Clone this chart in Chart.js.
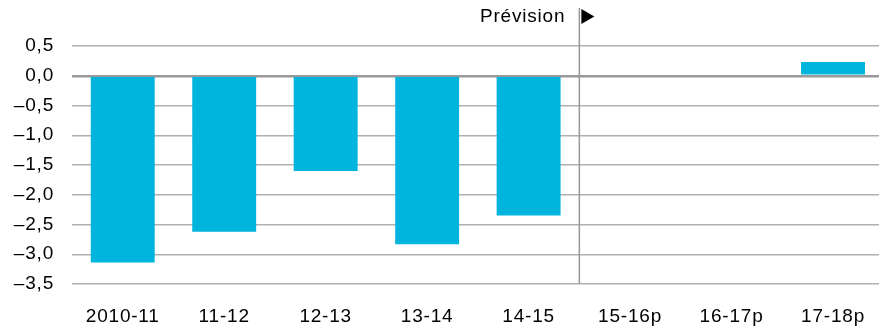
<!DOCTYPE html>
<html>
<head>
<meta charset="utf-8">
<script src="https://cdn.jsdelivr.net/npm/chart.js@4"></script>
<style>
  html, body { margin: 0; padding: 0; background: #fff; overflow: hidden; }
  #wrap { width: 886px; height: 330px; position: relative; }
</style>
</head>
<body>
<div id="wrap"><canvas id="chart"></canvas></div>
<script>
const categories = ["2010-11", "11-12", "12-13", "13-14", "14-15", "15-16p", "16-17p", "17-18p"];
const values = [-3.14, -2.62, -1.60, -2.83, -2.35, 0, 0, 0.23];
const forecastLabel = "Prévision";
const forecastStart = 5; // first forecast category

const FONT = "'Liberation Sans', Arial, Helvetica, sans-serif";
const TRACK = "0.8px";

// the source font is tracked a little wider than Arial
const tracking = {
  id: "tracking",
  beforeUpdate(chart) { chart.ctx.letterSpacing = TRACK; },
  beforeLayout(chart) { chart.ctx.letterSpacing = TRACK; },
  beforeDraw(chart) { chart.ctx.letterSpacing = TRACK; }
};

// vertical separator + "Prévision ▶" marker
const forecastMarker = {
  id: "forecastMarker",
  afterDatasetsDraw(chart) {
    const { ctx, scales: { x, y } } = chart;
    const xs = (x.getPixelForTick(forecastStart - 1) + x.getPixelForTick(forecastStart)) / 2;
    ctx.save();
    ctx.strokeStyle = "#999";
    ctx.lineWidth = 1.5;
    ctx.beginPath();
    ctx.moveTo(xs, 8);
    ctx.lineTo(xs, y.bottom);
    ctx.stroke();

    ctx.fillStyle = "#000";
    ctx.font = "19px " + FONT;
    ctx.letterSpacing = TRACK;
    ctx.textAlign = "right";
    ctx.textBaseline = "middle";
    ctx.fillText(forecastLabel, xs - 14, 17);

    ctx.beginPath();
    ctx.moveTo(xs + 2, 9);
    ctx.lineTo(xs + 2, 24);
    ctx.lineTo(xs + 15, 16.5);
    ctx.closePath();
    ctx.fill();
    ctx.restore();
  }
};

new Chart(document.getElementById("chart"), {
  type: "bar",
  data: {
    labels: categories,
    datasets: [{
      data: values,
      backgroundColor: "#00b5dd",
      borderWidth: 0,
      categoryPercentage: 0.63,
      barPercentage: 1
    }]
  },
  options: {
    responsive: true,
    maintainAspectRatio: false,
    animation: false,
    layout: { padding: { top: 46, right: 0, bottom: 0, left: 0 } },
    plugins: {
      legend: { display: false },
      tooltip: { enabled: false }
    },
    scales: {
      x: {
        grid: { display: false, drawTicks: false },
        border: { display: false },
        afterFit: s => { s.height = 46; },
        ticks: {
          color: "#000",
          font: { family: FONT, size: 19 },
          padding: 21,
          maxRotation: 0,
          autoSkip: false
        }
      },
      y: {
        min: -3.5,
        max: 0.5,
        afterFit: s => { s.width = 72; },
        grid: {
          drawTicks: false,
          color: ctx => ctx.tick && ctx.tick.value === 0 ? "#999" : "#b0b0b0",
          lineWidth: ctx => ctx.tick && ctx.tick.value === 0 ? 2.5 : 1.5
        },
        border: { display: false },
        ticks: {
          stepSize: 0.5,
          color: "#000",
          font: { family: FONT, size: 19 },
          padding: 18,
          callback: v => (v < 0 ? "\u2013" : "") + Math.abs(v).toFixed(1).replace(".", ",")
        }
      }
    }
  },
  plugins: [tracking, forecastMarker]
});
</script>
</body>
</html>
